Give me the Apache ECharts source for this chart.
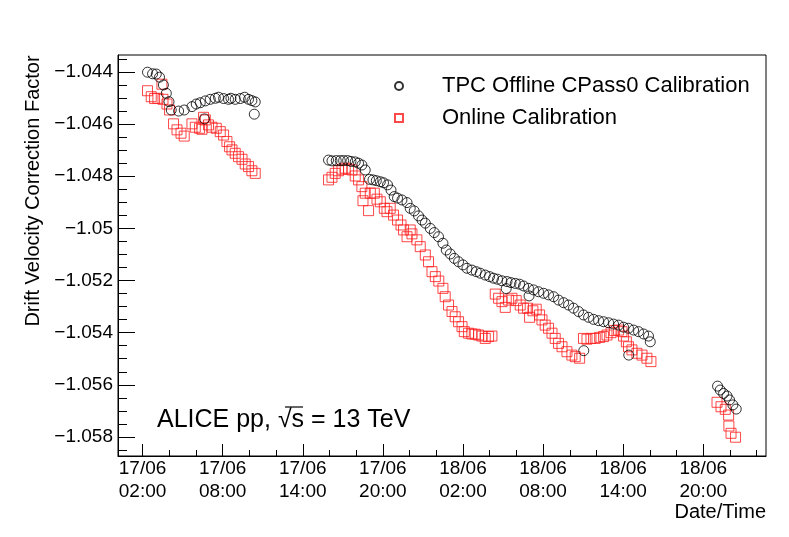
<!DOCTYPE html>
<html>
<head>
<meta charset="utf-8">
<script src="https://cdn.jsdelivr.net/npm/echarts@6/dist/echarts.min.js"></script>
<style>html,body{margin:0;padding:0;background:#fff;}#c{width:789px;height:537px;}</style>
</head>
<body>
<div id="c"></div>
<script>
// Time in hours since 17/06 00:00
const offlineHours = [2.37,2.75,3.03,3.27,3.56,3.78,3.98,4.15,4.70,5.12,5.70,6.02,6.32,6.64,6.70,7.07,7.45,7.69,8.07,8.44,8.62,8.94,9.32,9.64,9.94,10.19,10.37,10.44,
 15.93,16.19,16.51,16.81,17.06,17.36,17.61,17.93,18.18,18.43,18.68,19.00,19.26,19.51,19.81,20.05,20.35,20.61,20.85,21.10,21.43,21.81,22.05,22.35,22.67,22.93,23.18,23.55,23.85,24.17,24.50,
 24.75,25.05,25.35,25.67,26.00,26.30,26.67,27.00,27.30,27.67,27.99,28.29,28.59,28.92,29.24,29.30,29.60,29.92,30.24,30.54,30.91,30.95,31.29,31.66,32.04,32.41,32.79,33.16,33.54,33.91,34.28,34.66,35.03,35.05,35.41,35.78,36.16,36.53,36.91,37.28,37.66,38.03,38.40,38.42,38.78,39.15,39.53,39.90,40.03,
 45.07,45.27,45.52,45.78,45.97,46.22,46.47];
const offlineValues = [-1.04401,-1.04407,-1.04408,-1.04420,-1.04450,-1.04482,-1.04514,-1.04546,-1.04550,-1.04546,-1.04533,-1.04523,-1.04518,-1.04580,-1.04511,-1.04505,-1.04501,-1.04497,-1.04502,-1.04505,-1.04501,-1.04505,-1.04502,-1.04497,-1.04505,-1.04510,-1.04562,-1.04515,
 -1.04738,-1.04741,-1.04740,-1.04740,-1.04740,-1.04740,-1.04743,-1.04745,-1.04750,-1.04757,-1.04776,-1.04812,-1.04814,-1.04817,-1.04821,-1.04825,-1.04833,-1.04853,-1.04878,-1.04884,-1.04891,-1.04901,-1.04923,-1.04933,-1.04952,-1.04968,-1.04980,-1.05000,-1.05016,-1.05032,-1.05057,
 -1.05083,-1.05098,-1.05115,-1.05128,-1.05140,-1.05153,-1.05160,-1.05166,-1.05172,-1.05179,-1.05185,-1.05191,-1.05195,-1.05201,-1.05231,-1.05204,-1.05208,-1.05211,-1.05214,-1.05221,-1.05230,-1.05259,-1.05236,-1.05243,-1.05249,-1.05255,-1.05262,-1.05275,-1.05285,-1.05294,-1.05306,-1.05319,-1.05332,-1.05469,-1.05341,-1.05349,-1.05354,-1.05358,-1.05362,-1.05367,-1.05371,-1.05379,-1.05383,-1.05486,-1.05390,-1.05396,-1.05405,-1.05413,-1.05435,
 -1.05605,-1.05620,-1.05633,-1.05643,-1.05658,-1.05677,-1.05693];

const onlineHours = [2.37,2.65,2.90,3.15,3.45,3.53,3.83,4.02,4.32,4.58,4.88,5.12,5.70,5.95,6.27,6.45,6.57,6.70,6.94,7.20,7.52,7.82,8.07,8.32,8.52,8.70,8.94,9.19,9.45,9.69,9.94,10.19,10.44,
 15.93,16.19,16.43,16.68,16.94,17.18,17.43,17.69,17.93,18.18,18.43,18.51,18.68,18.93,19.06,19.36,19.56,19.81,20.11,20.31,20.55,20.80,21.10,21.36,21.55,21.81,22.05,22.18,22.55,22.80,23.18,23.42,23.68,23.93,24.19,24.50,24.67,24.92,25.18,25.42,25.67,25.93,26.10,26.42,26.67,26.92,27.17,27.42,27.67,27.92,28.17,
 28.42,28.67,28.92,29.17,29.42,29.67,29.99,30.29,30.54,30.84,30.99,31.24,31.49,31.74,31.92,32.16,32.41,32.67,32.91,33.16,33.42,33.79,34.16,34.41,34.74,
 35.03,35.29,35.59,35.91,36.24,36.53,36.79,37.09,37.34,37.66,37.91,38.03,38.24,38.40,38.66,39.03,39.41,39.78,40.08,
 45.03,45.33,45.65,45.90,45.92,46.08,46.42];
const onlineValues = [-1.04472,-1.04495,-1.04502,-1.04501,-1.04447,-1.04505,-1.04523,-1.04546,-1.04599,-1.04622,-1.04635,-1.04646,-1.04599,-1.04612,-1.04616,-1.04620,-1.04574,-1.04584,-1.04603,-1.04612,-1.04616,-1.04629,-1.04642,-1.04667,-1.04687,-1.04699,-1.04712,-1.04725,-1.04735,-1.04753,-1.04763,-1.04779,-1.04789,
 -1.04814,-1.04804,-1.04789,-1.04779,-1.04773,-1.04769,-1.04773,-1.04776,-1.04799,-1.04814,-1.04840,-1.04894,-1.04865,-1.04932,-1.04865,-1.04865,-1.04888,-1.04898,-1.04923,-1.04936,-1.04923,-1.04949,-1.04968,-1.04987,-1.05006,-1.05032,-1.05006,-1.05021,-1.05044,-1.05070,-1.05102,-1.05128,-1.05166,-1.05185,-1.05202,-1.05230,-1.05262,-1.05294,-1.05319,-1.05339,-1.05358,-1.05377,-1.05396,-1.05402,-1.05405,-1.05406,-1.05409,-1.05413,-1.05422,-1.05415,-1.05413,
 -1.05252,-1.05268,-1.05281,-1.05303,-1.05275,-1.05268,-1.05277,-1.05294,-1.05306,-1.05306,-1.05341,-1.05316,-1.05310,-1.05332,-1.05351,-1.05371,-1.05383,-1.05402,-1.05422,-1.05441,-1.05454,-1.05473,-1.05486,-1.05492,-1.05498,
 -1.05422,-1.05425,-1.05422,-1.05422,-1.05418,-1.05415,-1.05409,-1.05400,-1.05392,-1.05390,-1.05396,-1.05413,-1.05435,-1.05454,-1.05466,-1.05479,-1.05486,-1.05498,-1.05511,
 -1.05667,-1.05684,-1.05694,-1.05716,-1.05758,-1.05786,-1.05801];

const xMajorTicks = [2, 8, 14, 20, 26, 32, 38, 44];
const xTickLabels = ['17/06\n02:00','17/06\n08:00','17/06\n14:00','17/06\n20:00','18/06\n02:00','18/06\n08:00','18/06\n14:00','18/06\n20:00'];
const xMinorTicks = [2,4,6,8,10,12,14,16,18,20,22,24,26,28,30,32,34,36,38,40,42,44,46,48];
const yMajorTicks = [-1.058,-1.056,-1.054,-1.052,-1.05,-1.048,-1.046,-1.044];
const yTickLabels = ['\u22121.058','\u22121.056','\u22121.054','\u22121.052','\u22121.05','\u22121.048','\u22121.046','\u22121.044'];
const yMinorTicks = [-1.0585,-1.058,-1.0575,-1.057,-1.0565,-1.056,-1.0555,-1.055,-1.0545,-1.054,-1.0535,-1.053,-1.0525,-1.052,-1.0515,-1.051,-1.0505,-1.05,-1.0495,-1.049,-1.0485,-1.048,-1.0475,-1.047,-1.0465,-1.046,-1.0455,-1.045,-1.0445,-1.044,-1.0435];
const seriesNames = ['TPC Offline CPass0 Calibration', 'Online Calibration'];

const X_MIN = 0.16, X_MAX = 48.7;
const Y_MIN = -1.05873, Y_MAX = -1.04335;
const FONT = 'Liberation Sans, Arial, Helvetica, sans-serif';

function zip(a, b) { return a.map((v, i) => [v, b[i]]); }
function nearIdx(arr, v) { let best = 0; arr.forEach((a, i) => { if (Math.abs(a - v) < Math.abs(arr[best] - v)) best = i; }); return best; }

const chart = echarts.init(document.getElementById('c'), null, {renderer: 'canvas'});
const option = {
  backgroundColor: '#fff',
  animation: false,
  textStyle: {fontFamily: FONT},
  grid: {left: 118, right: 23, top: 55, bottom: 81, show: true, borderColor: '#000', borderWidth: 1, backgroundColor: 'transparent'},
  legend: {
    orient: 'vertical', left: 394, top: 75, padding: 0, itemWidth: 8, itemHeight: 8, itemGap: 10,
    data: seriesNames,
    textStyle: {fontSize: 22, color: '#000', fontFamily: FONT, padding: [0, 0, 0, 34], lineHeight: 22}
  },
  xAxis: [
    {type: 'value', min: X_MIN, max: X_MAX, position: 'bottom',
     axisLine: {show: true, lineStyle: {color: '#000', width: 1}},
     axisTick: {show: true, inside: true, length: 12, customValues: xMajorTicks, lineStyle: {color: '#000'}},
     axisLabel: {show: true, customValues: xMajorTicks, margin: 1, fontSize: 19, lineHeight: 23, color: '#000', fontFamily: FONT,
       formatter: v => xTickLabels[nearIdx(xMajorTicks, v)]},
     splitLine: {show: false}},
    {type: 'value', min: X_MIN, max: X_MAX, position: 'bottom',
     axisLine: {show: false},
     axisTick: {show: true, inside: true, length: 6, customValues: xMinorTicks, lineStyle: {color: '#000'}},
     axisLabel: {show: false}, splitLine: {show: false}}
  ],
  yAxis: [
    {type: 'value', min: Y_MIN, max: Y_MAX, position: 'left',
     axisLine: {show: true, lineStyle: {color: '#000', width: 1}},
     axisTick: {show: true, inside: true, length: 17, customValues: yMajorTicks, lineStyle: {color: '#000'}},
     axisLabel: {show: true, customValues: yMajorTicks, margin: 5, fontSize: 19, color: '#000', fontFamily: FONT,
       formatter: v => yTickLabels[nearIdx(yMajorTicks, v)]},
     splitLine: {show: false}},
    {type: 'value', min: Y_MIN, max: Y_MAX, position: 'left',
     axisLine: {show: false},
     axisTick: {show: true, inside: true, length: 9, customValues: yMinorTicks, lineStyle: {color: '#000'}},
     axisLabel: {show: false}, splitLine: {show: false}}
  ],
  series: [
    {name: seriesNames[0], type: 'scatter', xAxisIndex: 0, yAxisIndex: 0, symbol: 'circle', symbolSize: 10,
     itemStyle: {color: 'rgba(0,0,0,0)', borderColor: '#000', borderWidth: 1},
     data: zip(offlineHours, offlineValues), z: 3},
    {name: seriesNames[1], type: 'scatter', xAxisIndex: 0, yAxisIndex: 0, symbol: 'rect', symbolSize: 10,
     itemStyle: {color: 'rgba(0,0,0,0)', borderColor: '#ff1a1a', borderWidth: 1},
     data: zip(onlineHours, onlineValues), z: 2}
  ],
  graphic: [
    {type: 'text', x: 33, y: 191, rotation: Math.PI / 2,
     style: {text: 'Drift Velocity Correction Factor', fontSize: 20, fontFamily: FONT, fill: '#000', textAlign: 'center', textVerticalAlign: 'middle'}},
    {type: 'text', x: 766, y: 512,
     style: {text: 'Date/Time', fontSize: 20, fontFamily: FONT, fill: '#000', textAlign: 'right', textVerticalAlign: 'middle'}},
    {type: 'text', x: 157, y: 420,
     style: {text: 'ALICE pp, \u221As = 13 TeV', fontSize: 25, fontFamily: FONT, fill: '#000', textAlign: 'left', textVerticalAlign: 'middle'}},
    {type: 'line', shape: {x1: 285, y1: 407, x2: 303, y2: 407}, style: {stroke: '#000', lineWidth: 1.2}}
  ]
};
chart.setOption(option);
</script>
</body>
</html>
